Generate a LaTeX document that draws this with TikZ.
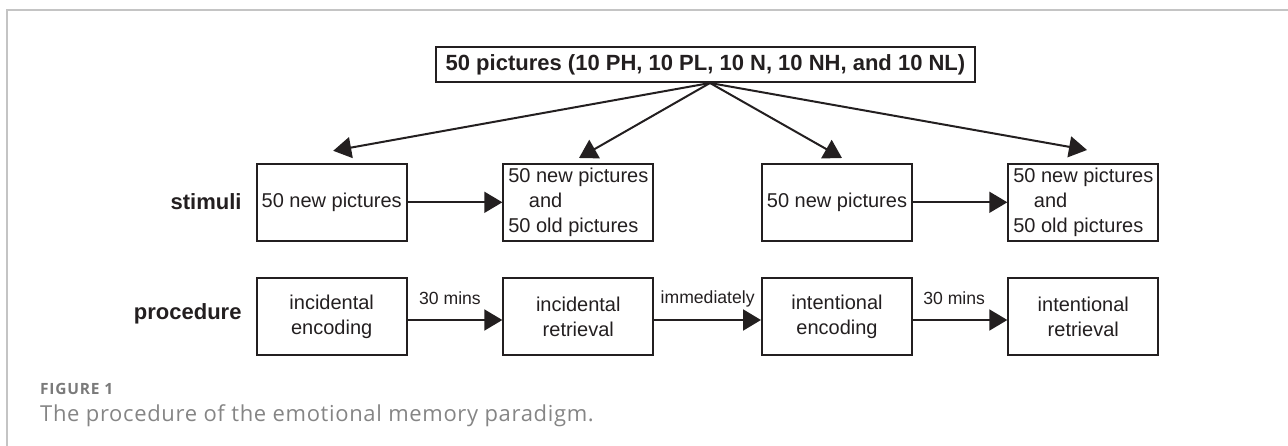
\documentclass[tikz,border=0pt]{standalone}
\usepackage{fontspec}
\setmainfont{Liberation Sans}
\newfontfamily\capfont[LetterSpace=3]{Open Sans}
\newfontfamily\figfont[LetterSpace=5]{Open Sans}
\usetikzlibrary{arrows.meta,calc}
\definecolor{ink}{HTML}{231F20}
\definecolor{framegray}{HTML}{C4C4C4}
\definecolor{capgray}{HTML}{858585}
\definecolor{figgray}{HTML}{7A7A7A}
\begin{document}
\begin{tikzpicture}[x=1pt,y=-1pt,
  box/.style={draw=ink, line width=2pt, minimum width=150pt, minimum height=77pt,
    inner sep=0pt, font=\fontsize{20}{25}\selectfont, align=center, text=ink},
  headbox/.style={draw=ink, line width=2pt, minimum width=539pt, minimum height=35pt,
    inner sep=0pt, font=\bfseries\fontsize{22}{26}\selectfont, text=ink},
  rowlab/.style={anchor=east, inner sep=0pt, font=\bfseries\fontsize{22}{26}\selectfont, text=ink},
  arr/.style={draw=ink, line width=2pt, -{Triangle[length=18pt,width=21pt]}},
  lab/.style={inner sep=0pt, text height=12.6pt, text depth=0pt, font=\fontsize{17.6}{20}\selectfont, text=ink},
  capfig/.style={anchor=base west, inner sep=0pt, font=\figfont\bfseries\fontsize{15.5}{17}\selectfont, text=figgray},
  captext/.style={anchor=base west, inner sep=0pt, font=\capfont\fontsize{22}{25}\selectfont, text=capgray}
]
\useasboundingbox (0,0) rectangle (1288,446);
% frame
\draw[framegray, line width=1.5pt] (7,446) -- (7,10) -- (1288,10);

% header
\node[headbox] (top) at (705.5,64.5) {50 pictures (10 PH, 10 PL, 10 N, 10 NH, and 10 NL)};
\coordinate (apex) at ($(top.south)+(4.5,0)$);

% stimuli row
\node[rowlab] (lstim) at (241.7,202) {stimuli};
\node[box] (s1) at (331.7,202.3) {50 new pictures};
\node[box, align=left] (s2) at (578.3,202.3) {50 new pictures\\\hspace*{20.7pt}and\\50 old pictures};
\node[box] (s3) at (837,202.3) {50 new pictures};
\node[box, align=left] (s4) at (1083.3,202.3) {50 new pictures\\\hspace*{20.7pt}and\\50 old pictures};

% procedure row
\node[rowlab] (lproc) at (241.7,314) {procedure};
\node[box] (p1) at (331.7,316.5) {incidental\\encoding};
\node[box] (p2) at (578.3,316.5) {incidental\\retrieval};
\node[box] (p3) at (837,316.5) {intentional\\encoding};
\node[box] (p4) at (1083.3,316.5) {intentional\\retrieval};

% arrows from header
\coordinate (t1) at ($(s1.north)+(1.5,-12)$);
\coordinate (t2) at ($(s2.north)+(0.7,-4.8)$);
\coordinate (t3) at ($(s3.north)+(5,-4.8)$);
\coordinate (t4) at ($(s4.north)+(3.7,-12.8)$);
\draw[arr] (apex) -- (t1);
\draw[arr] (apex) -- (t2);
\draw[arr] (apex) -- (t3);
\draw[arr] (apex) -- (t4);

% stimuli arrows
\draw[arr] (s1.east) -- (s2.west);
\draw[arr] (s3.east) -- (s4.west);

% procedure arrows
\draw[arr] ([yshift=-3.5pt]p1.east) -- node[lab, anchor=base, pos=0.5, yshift=15.7pt, xshift=-5pt] {30 mins} ([yshift=-3.5pt]p2.west);
\draw[arr] ([yshift=-3.5pt]p2.east) -- node[lab, anchor=base, pos=0.5, yshift=16.5pt] {immediately} ([yshift=-3.5pt]p3.west);
\draw[arr] ([yshift=-3.5pt]p3.east) -- node[lab, anchor=base, pos=0.5, yshift=15.7pt, xshift=-6pt] {30 mins} ([yshift=-3.5pt]p4.west);

% caption
\node[capfig] (fig) at (40,394) {FIGURE 1};
\node[captext] (cap) at (40,421.5) {The procedure of the emotional memory paradigm.};
\end{tikzpicture}
\end{document}
